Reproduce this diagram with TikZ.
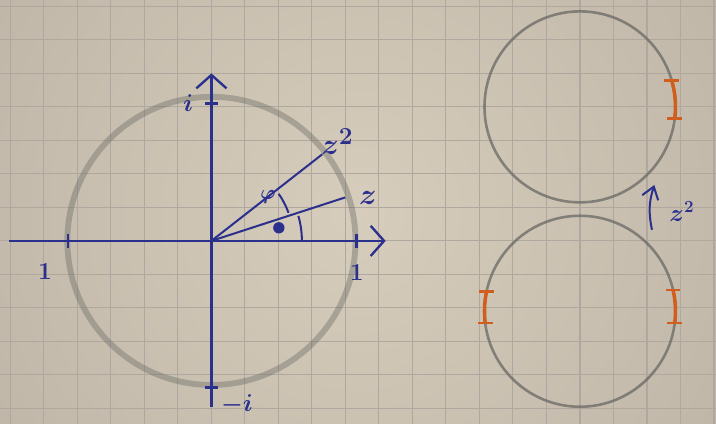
\documentclass[tikz,border=0pt]{standalone}
\usepackage{amsmath}
\usepackage{xcolor}
\usetikzlibrary{arrows.meta}

\definecolor{paper}{RGB}{214,205,188}
\definecolor{paperdark}{RGB}{172,162,150}
\definecolor{gridgray}{RGB}{176,168,158}
\definecolor{ink}{RGB}{42,48,140}
\definecolor{pencil}{RGB}{105,105,100}
\definecolor{marker}{RGB}{208,95,30}

\begin{document}
\begin{tikzpicture}[
  axis/.style={ink, line width=2pt, -{Straight Barb[length=4mm,width=9mm,line width=2pt]}},
  ray/.style={ink, line width=1.7pt},
  lbl/.style={ink, font=\huge\boldmath, inner sep=1pt},
  unitcircle/.style={pencil, line width=5pt, opacity=0.4},
  smallcircle/.style={pencil, line width=2.2pt, opacity=0.75},
  interval/.style={marker, line width=3pt},
  intervalbar/.style={marker, line width=2pt}
]

\useasboundingbox (-6.31,-5.46) rectangle (15.06,7.19);

% paper
\begin{scope}
\clip (-6.31,-5.46) rectangle (15.06,7.19);
\shade[inner color=paper, outer color=paperdark] (4.37,0.86) circle (24);
\end{scope}
\draw[gridgray, line width=0.9pt] (-6.31,-5.46) grid (15.06,7.19);

% unit circle and axes
\coordinate (O) at (0,0);
\draw[unitcircle] (O) circle (4.3);
\draw[axis] (-6.03,0) -- (5.2,0);
\draw[axis] (0,-4.96) -- (0,5.0);

\foreach \x in {4.33,-4.28}
  \draw[ink, line width=2.5pt] (\x,-0.2) -- (\x,0.2);
\foreach \y in {4.1,-4.38}
  \draw[ink, line width=2.5pt] (-0.2,\y) -- (0.2,\y);

\node[lbl] (lblI) at (-0.7,4.12) {$i$};
\node[lbl] (lblOneL) at (-4.97,-0.93) {$1$};
\node[lbl] (lblOneR) at (4.34,-0.96) {$1$};
\node[lbl] (lblMinusI) at (0.76,-4.9) {$-i$};

% z and z^2
\coordinate (Z) at (18:4.2);
\coordinate (Zsq) at (38:4.2);
\draw[ray] (O) -- (Z);
\draw[ray] (O) -- (Zsq);
\draw[ray] (20:2.45) arc (20:35:2.45);
\draw[ray] (0:2.7) arc (0:16:2.7);
\fill[ink] (11:2.05) circle (0.17);

\node[lbl, font=\Huge\boldmath] (lblZ) at (4.67,1.28) {$z$};
\node[lbl, font=\Huge\boldmath] (lblZsq) at (3.76,2.96) {$z^2$};
\node[lbl, font=\LARGE\boldmath] (lblPhi) at (1.69,1.3) {$\varphi$};

% image circles
\coordinate (Ctop) at (11,4);
\coordinate (Cbot) at (11,-2.1);
\draw[smallcircle] (Ctop) circle (2.85);
\draw[smallcircle] (Cbot) circle (2.85);

\foreach \c/\a/\b in {Ctop/-7/16, Cbot/-7/13, Cbot/168/187}{
  \draw[interval] ([shift={(\a:2.85)}]\c) arc (\a:\b:2.85);
  \draw[intervalbar] ([shift={(\a:2.85)}]\c) ++(-0.22,0) -- ++(0.44,0);
  \draw[intervalbar] ([shift={(\b:2.85)}]\c) ++(-0.22,0) -- ++(0.44,0);
}

\coordinate (mapfrom) at (13.15,0.33);
\coordinate (mapto) at (13.22,1.67);
\draw[ink, line width=1.7pt, -{Straight Barb[length=3.5mm,width=5mm,line width=1.7pt]}]
  (mapfrom) to[bend left=15] (mapto);
\node[lbl, font=\huge\boldmath] (lblMap) at (14.04,0.87) {$z^2$};

\end{tikzpicture}
\end{document}
